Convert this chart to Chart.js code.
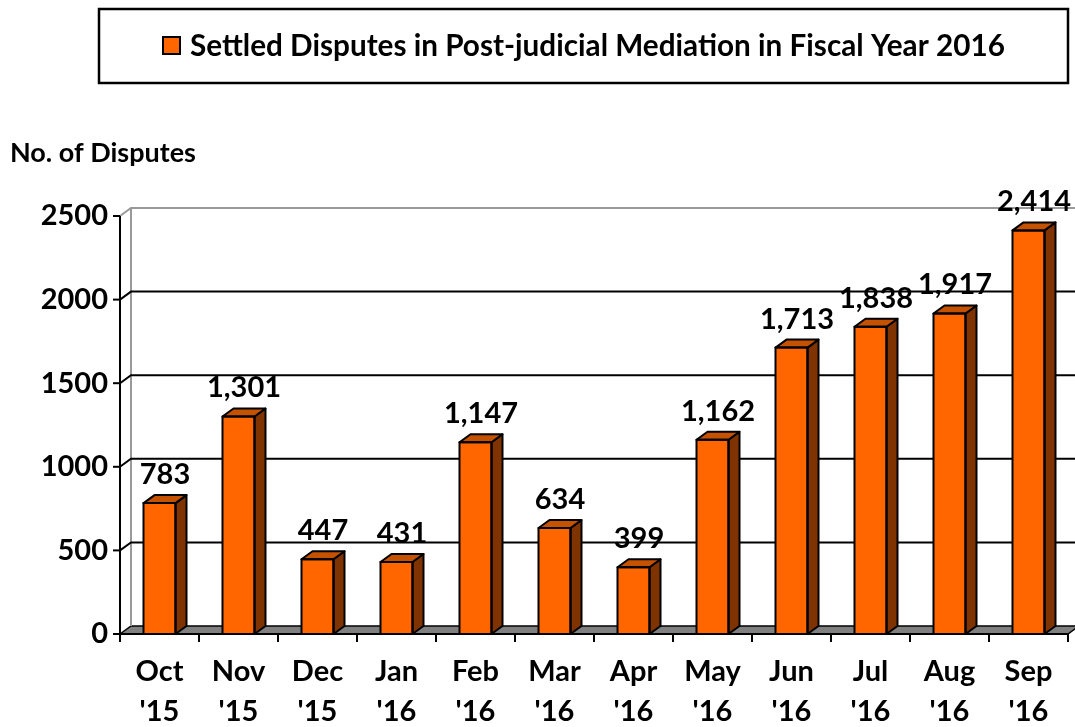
<!DOCTYPE html>
<html>
<head>
<meta charset="utf-8">
<script src="https://cdn.jsdelivr.net/npm/chart.js@4.4.1/dist/chart.umd.min.js"></script>
<style>
html,body{margin:0;padding:0;background:#fff;}
#wrap{width:1075px;height:727px;}
</style>
</head>
<body>
<div id="wrap"><canvas id="c" width="1075" height="727"></canvas></div>
<script>
// ---- data ----
const months = ["Oct","Nov","Dec","Jan","Feb","Mar","Apr","May","Jun","Jul","Aug","Sep"];
const years = ["'15","'15","'15","'16","'16","'16","'16","'16","'16","'16","'16","'16"];
const settled = [783,1301,447,431,1147,634,399,1162,1713,1838,1917,2414];
const valueLabels = ["783","1,301","447","431","1,147","634","399","1,162","1,713","1,838","1,917","2,414"];
const yTicks = [0,500,1000,1500,2000,2500];
const seriesName = "Settled Disputes in Post-judicial Mediation in Fiscal Year 2016";
const yTitle = "No. of Disputes";

const categories = months.map((m,i)=>[m, years[i]]);

const FONT = "Lato";
const FS = 29;
const DX = 11, DY = -8;
const FRONT = "#FF6600", SIDE = "#7F3300", TOP = "#C45200";

function fitFont(ctx, text, width, weight){
  let s = 40;
  ctx.font = weight + " " + s + "px " + FONT;
  const w = ctx.measureText(text).width;
  return s * width / w;
}

const deco = {
  id: 'deco',
  beforeDatasetsDraw(chart){
    const ctx = chart.ctx, ca = chart.chartArea, ys = chart.scales.y;
    const L = ca.left, R = ca.right, B = ys.getPixelForValue(0);
    ctx.save();
    // floor
    ctx.beginPath();
    ctx.moveTo(L, B); ctx.lineTo(L+DX, B+DY); ctx.lineTo(R+DX, B+DY); ctx.lineTo(R, B); ctx.closePath();
    ctx.fillStyle = "#808080"; ctx.fill();
    ctx.lineWidth = 1.5; ctx.strokeStyle = "#000"; ctx.stroke();
    // left wall edge
    ctx.strokeStyle = "#999"; ctx.lineWidth = 2;
    ctx.beginPath(); ctx.moveTo(L+DX, ys.getPixelForValue(2500)+DY); ctx.lineTo(L+DX, B+DY); ctx.stroke();
    // gridlines
    yTicks.forEach(v=>{
      if (v === 0) return;
      const y = ys.getPixelForValue(v);
      ctx.strokeStyle = (v === yTicks[yTicks.length-1]) ? "#999" : "#000";
      ctx.lineWidth = 2;
      ctx.beginPath(); ctx.moveTo(L, y); ctx.lineTo(L+DX, y+DY); ctx.lineTo(R+DX+20, y+DY); ctx.stroke();
    });
    // axes
    ctx.strokeStyle = "#000"; ctx.lineWidth = 2;
    ctx.beginPath(); ctx.moveTo(L, ys.getPixelForValue(2500)); ctx.lineTo(L, B+1); ctx.stroke();
    ctx.beginPath(); ctx.moveTo(L-1, B); ctx.lineTo(R, B); ctx.stroke();
    yTicks.forEach(v=>{
      const y = ys.getPixelForValue(v);
      ctx.beginPath(); ctx.moveTo(L-7, y); ctx.lineTo(L, y); ctx.stroke();
    });
    const n = categories.length, cw = (R-L)/n;
    for (let i=0;i<=n;i++){
      const x = L + cw*i;
      ctx.beginPath(); ctx.moveTo(x, B); ctx.lineTo(x, B+8); ctx.stroke();
    }
    ctx.restore();
  },
  afterDatasetsDraw(chart){
    const ctx = chart.ctx, meta = chart.getDatasetMeta(0);
    ctx.save();
    ctx.lineJoin = "round";
    meta.data.forEach((bar,i)=>{
      const p = bar.getProps(['x','y','base','width'], true);
      const x1 = p.x - p.width/2, x2 = p.x + p.width/2, t = p.y, b = p.base;
      ctx.lineWidth = 2; ctx.strokeStyle = "#000";
      // side
      ctx.beginPath();
      ctx.moveTo(x2, t); ctx.lineTo(x2+DX, t+DY); ctx.lineTo(x2+DX, b+DY); ctx.lineTo(x2, b); ctx.closePath();
      ctx.fillStyle = SIDE; ctx.fill(); ctx.stroke();
      // top
      ctx.beginPath();
      ctx.moveTo(x1, t); ctx.lineTo(x1+DX, t+DY); ctx.lineTo(x2+DX, t+DY); ctx.lineTo(x2, t); ctx.closePath();
      ctx.fillStyle = TOP; ctx.fill(); ctx.stroke();
      // front outline
      ctx.strokeRect(x1, t, x2-x1, b-t);
      // label
      ctx.fillStyle = "#000";
      ctx.font = "bold " + FS + "px " + FONT;
      ctx.textAlign = "center"; ctx.textBaseline = "alphabetic";
      ctx.fillText(valueLabels[i], p.x + DX/2, t - 19);
    });
    ctx.restore();
  },
  afterDraw(chart){
    const ctx = chart.ctx;
    ctx.save();
    // legend box
    ctx.lineWidth = 2.5; ctx.strokeStyle = "#000";
    ctx.strokeRect(99, 9, 969, 74);
    ctx.fillStyle = FRONT; ctx.fillRect(163, 37, 17, 17);
    ctx.lineWidth = 2; ctx.strokeRect(163, 37, 17, 17);
    const fs = fitFont(ctx, seriesName, 815, "bold");
    ctx.font = "bold " + fs + "px " + FONT;
    ctx.fillStyle = "#000"; ctx.textAlign = "left"; ctx.textBaseline = "middle";
    ctx.fillText(seriesName, 190, 46);
    // y title
    const fs2 = fitFont(ctx, yTitle, 186, "bold");
    ctx.font = "bold " + fs2 + "px " + FONT;
    ctx.fillText(yTitle, 10, 153);
    ctx.restore();
  }
};

new Chart(document.getElementById('c'), {
  type: 'bar',
  data: {
    labels: categories,
    datasets: [{
      label: seriesName,
      data: settled,
      backgroundColor: FRONT,
      borderWidth: 0,
      barPercentage: 0.405,
      categoryPercentage: 1.0
    }]
  },
  options: {
    responsive: false,
    animation: false,
    layout: { padding: { top: 216, right: 7, left: 0, bottom: 0 } },
    plugins: { legend: { display: false }, tooltip: { enabled: false } },
    scales: {
      y: {
        min: 0, max: 2500,
        ticks: { stepSize: 500, color: "#000", font: { family: FONT, weight: "bold", size: FS }, padding: 12,
                 callback: v => String(v) },
        grid: { display: false, drawTicks: false },
        border: { display: false },
        afterFit: s => { s.width = 120; }
      },
      x: {
        ticks: { color: "#000", font: { family: FONT, weight: "bold", size: FS, lineHeight: 40/FS }, padding: 18, maxRotation: 0, autoSkip: false },
        grid: { display: false, drawTicks: false },
        border: { display: false },
        afterFit: s => { s.height = 93; }
      }
    }
  },
  plugins: [deco]
});
</script>
</body>
</html>
